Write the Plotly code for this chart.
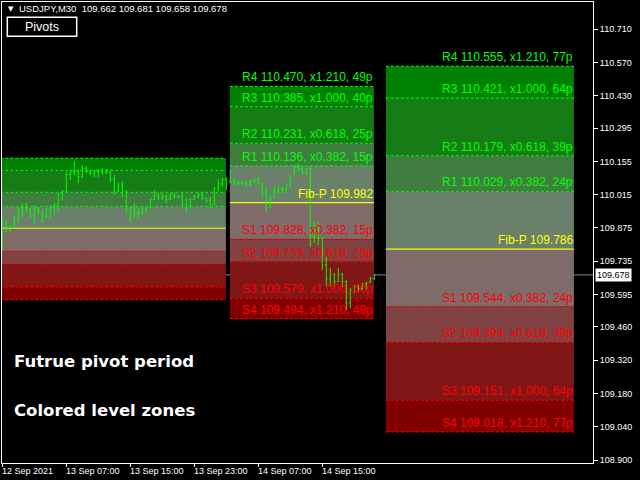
import plotly.graph_objects as go

# ---------------- data ----------------
opens = [109.900, 109.860, 109.870, 109.880, 109.915, 109.950, 109.960, 109.945, 109.930, 109.955,
         109.940, 109.925, 109.950, 109.960, 109.975, 110.020, 110.030, 110.100, 110.110, 110.115,
         110.090, 110.125, 110.112, 110.105, 110.110, 110.115, 110.110, 110.108, 110.080, 110.030,
         110.055, 110.030, 109.950, 109.930, 109.940, 109.935, 109.950, 109.960, 109.995, 110.010,
         110.000, 110.005, 109.995, 110.010, 110.005, 110.008, 109.975, 109.965, 109.995, 110.005,
         110.015, 110.000, 109.990, 109.975, 110.040, 110.060, 110.080, 110.068, 110.070, 110.065,
         110.065, 110.062, 110.060, 110.070, 110.075, 110.062, 110.020, 109.960, 110.005, 110.030,
         110.040, 110.040, 110.055, 110.100, 110.130, 110.125, 110.110, 110.125, 109.840, 109.870,
         109.830, 109.720, 109.660, 109.680, 109.650, 109.680, 109.650, 109.560, 109.615, 109.625,
         109.620, 109.640, 109.645, 109.662]
highs = [109.918, 109.908, 109.887, 109.929, 109.964, 109.980, 109.980, 109.959, 109.971, 109.964,
         109.950, 109.959, 109.971, 109.980, 110.022, 110.034, 110.111, 110.119, 110.156, 110.119,
         110.140, 110.135, 110.119, 110.119, 110.123, 110.127, 110.123, 110.119, 110.098, 110.068,
         110.072, 110.034, 109.964, 109.980, 109.959, 109.964, 109.964, 110.001, 110.034, 110.022,
         110.022, 110.014, 110.023, 110.023, 110.014, 110.023, 110.001, 110.001, 110.014, 110.027,
         110.022, 110.001, 110.006, 110.047, 110.081, 110.085, 110.090, 110.119, 110.085, 110.077,
         110.074, 110.074, 110.077, 110.085, 110.090, 110.064, 110.043, 110.014, 110.048, 110.056,
         110.048, 110.064, 110.098, 110.140, 110.148, 110.132, 110.127, 110.135, 109.901, 109.901,
         109.838, 109.754, 109.707, 109.686, 109.707, 109.686, 109.656, 109.623, 109.635, 109.635,
         109.644, 109.649, 109.670, 109.681]
lows = [109.782, 109.859, 109.854, 109.875, 109.896, 109.922, 109.938, 109.917, 109.887, 109.929,
        109.896, 109.917, 109.917, 109.929, 109.950, 109.992, 110.027, 110.076, 110.098, 110.064,
        110.085, 110.106, 110.098, 110.089, 110.089, 110.098, 110.102, 110.068, 110.014, 110.026,
        110.006, 109.938, 109.896, 109.917, 109.917, 109.929, 109.938, 109.959, 109.992, 109.992,
        109.992, 109.980, 109.992, 110.001, 110.001, 109.964, 109.938, 109.964, 109.992, 110.001,
        109.992, 109.980, 109.959, 109.971, 110.027, 110.048, 110.034, 110.064, 110.056, 110.056,
        110.056, 110.048, 110.051, 110.064, 110.056, 110.006, 109.943, 109.959, 110.001, 110.022,
        110.022, 110.022, 110.048, 110.098, 110.111, 110.098, 110.098, 109.796, 109.812, 109.803,
        109.698, 109.628, 109.628, 109.628, 109.649, 109.628, 109.530, 109.539, 109.602, 109.607,
        109.614, 109.614, 109.644, 109.658]
closes = [109.860, 109.870, 109.880, 109.915, 109.950, 109.960, 109.945, 109.930, 109.955, 109.940,
          109.925, 109.950, 109.960, 109.975, 110.020, 110.030, 110.100, 110.110, 110.115, 110.090,
          110.125, 110.112, 110.105, 110.110, 110.115, 110.110, 110.108, 110.080, 110.030, 110.055,
          110.030, 109.950, 109.930, 109.940, 109.935, 109.950, 109.960, 109.995, 110.010, 110.000,
          110.005, 109.995, 110.010, 110.005, 110.008, 109.975, 109.955, 109.995, 110.005, 110.015,
          110.000, 109.990, 109.965, 110.040, 110.060, 110.080, 110.060, 110.070, 110.065, 110.065,
          110.062, 110.060, 110.070, 110.075, 110.065, 110.020, 109.960, 110.000, 110.030, 110.040,
          110.040, 110.055, 110.090, 110.130, 110.125, 110.110, 110.125, 109.840, 109.870, 109.830,
          109.720, 109.660, 109.680, 109.650, 109.680, 109.650, 109.560, 109.615, 109.625, 109.620,
          109.640, 109.645, 109.662, 109.678]
bar_index = list(range(len(closes)))

time_tick_index = [0, 16, 32, 48, 64, 80]
time_tick_labels = ["12 Sep 2021", "13 Sep 07:00", "13 Sep 15:00",
                    "13 Sep 23:00", "14 Sep 07:00", "14 Sep 15:00"]
price_ticks = [110.710, 110.570, 110.430, 110.295, 110.155, 110.015, 109.875,
               109.735, 109.595, 109.460, 109.320, 109.180, 109.040, 108.900]

level_names = ["R4", "R3", "R2", "R1", "P", "S1", "S2", "S3", "S4"]
level_ratios = ["x1.210", "x1.000", "x0.618", "x0.382", "", "x0.382", "x0.618", "x1.000", "x1.210"]

zone1_levels = [110.168, 110.117, 110.025, 109.966, 109.874, 109.778, 109.723, 109.627, 109.573]
zone2_levels = [110.470, 110.385, 110.231, 110.136, 109.982, 109.828, 109.733, 109.579, 109.494]
zone3_levels = [110.555, 110.421, 110.179, 110.029, 109.786, 109.544, 109.394, 109.151, 109.018]
zone2_pips = [49, 40, 25, 15, 0, 15, 25, 40, 49]
zone3_pips = [77, 64, 39, 24, 0, 24, 39, 64, 77]

zone_start = [-0.5, 56.9, 95.9]
zone_end = [55.9, 92.9, 142.9]

# ---------------- styles ----------------
band_colors = ["rgb(0,128,0)", "rgb(22,124,22)", "rgb(64,126,64)", "rgb(107,128,107)",
               "rgb(128,107,107)", "rgb(128,66,66)", "rgb(128,22,22)", "rgb(128,0,0)"]
GREEN = "#00FF00"
RED = "#FF0000"
YELLOW = "#FFFF00"
FONT = "Liberation Sans, Arial, sans-serif"

fig = go.Figure()

fig.add_trace(go.Ohlc(
    x=bar_index, open=opens, high=highs, low=lows, close=closes,
    increasing=dict(line=dict(color=GREEN, width=1)),
    decreasing=dict(line=dict(color=GREEN, width=1)),
    tickwidth=0.3, showlegend=False, hoverinfo="skip"))

zones = [zone1_levels, zone2_levels, zone3_levels]
zone_pips = [None, zone2_pips, zone3_pips]

shapes = []
annotations = []
for z, levels in enumerate(zones):
    x0, x1 = zone_start[z], zone_end[z]
    for b in range(len(levels) - 1):
        shapes.append(dict(type="rect", xref="x", yref="y", x0=x0, x1=x1,
                           y0=levels[b + 1], y1=levels[b], fillcolor=band_colors[b],
                           line=dict(width=0), layer="below"))
    for k, lv in enumerate(levels):
        name = level_names[k]
        if name == "P":
            col, dash = YELLOW, "solid"
        elif name.startswith("R"):
            col, dash = GREEN, "3px,2px"
        else:
            col, dash = RED, "3px,2px"
        shapes.append(dict(type="line", xref="x", yref="y", x0=x0, x1=x1, y0=lv, y1=lv,
                           line=dict(color=col, width=1.2 if name == "P" else 1, dash=dash),
                           layer="below"))
        if zone_pips[z] is not None:
            if name == "P":
                txt = f"Fib-P {lv:.3f}"
            else:
                txt = f"{name} {lv:.3f}, {level_ratios[k]}, {zone_pips[z][k]}p"
            annotations.append(dict(x=x1, y=lv, xref="x", yref="y", text=txt,
                                    showarrow=False, xanchor="right", yanchor="bottom",
                                    borderpad=0, yshift=1,
                                    font=dict(family=FONT, size=12, color=col)))

# current price line
shapes.append(dict(type="line", xref="paper", yref="y", x0=0, x1=1,
                   y0=closes[-1], y1=closes[-1],
                   line=dict(color="#7A8A9C", width=1), layer="below"))

# Pivots button
shapes.append(dict(type="rect", xref="paper", yref="paper", x0=0.009, x1=0.1264,
                   y0=0.9256, y1=0.9668, line=dict(color="white", width=1.5),
                   fillcolor="black", layer="above"))
annotations.append(dict(x=0.0677, y=0.9462, xref="paper", yref="paper", text="Pivots",
                        showarrow=False, xanchor="center", yanchor="middle",
                        font=dict(family=FONT, size=12.5, color="white")))

# header
annotations.append(dict(x=0.0068, y=0.9855, xref="paper", yref="paper", text="▼",
                        showarrow=False, xanchor="left", yanchor="middle",
                        font=dict(family="DejaVu Sans", size=7, color="white")))
annotations.append(dict(x=0.0259, y=0.9855, xref="paper", yref="paper",
                        text=f"USDJPY,M30  {opens[-1]:.3f} {highs[-1]:.3f} {lows[-1]:.3f} {closes[-1]:.3f}",
                        showarrow=False, xanchor="left", yanchor="middle",
                        font=dict(family=FONT, size=9.5, color="white")))

# big notes
for txt, yp in [("Futrue pivot period", 0.221), ("Colored level zones", 0.1128)]:
    annotations.append(dict(x=0.0169, y=yp, xref="paper", yref="paper", text=txt,
                            showarrow=False, xanchor="left", yanchor="middle",
                            font=dict(family="DejaVu Sans", size=16.5, color="white",
                                      weight="bold")))

# time labels (left aligned at tick)
for ti, tl in zip(time_tick_index, time_tick_labels):
    annotations.append(dict(x=ti, y=0, xref="x", yref="paper", text=tl, showarrow=False,
                            xanchor="left", yanchor="top", yshift=-1, xshift=-2,
                            font=dict(family=FONT, size=9, color="white")))

# current price box
annotations.append(dict(x=1, y=closes[-1], xref="paper", yref="y", text=f"{closes[-1]:.3f}",
                        showarrow=False, xanchor="left", yanchor="middle", xshift=2,
                        bgcolor="white", borderpad=1,
                        font=dict(family=FONT, size=9, color="black")))

fig.update_layout(
    width=640, height=480,
    margin=dict(l=2, r=47, t=2, b=17),
    paper_bgcolor="black", plot_bgcolor="black",
    shapes=shapes, annotations=annotations,
    showlegend=False,
    xaxis=dict(range=[-0.075, 147.675], showgrid=False, zeroline=False,
               showline=True, mirror=True, linecolor="white", linewidth=1,
               ticks="outside", ticklen=3, tickcolor="white",
               tickvals=time_tick_index, showticklabels=False,
               rangeslider=dict(visible=False), fixedrange=True),
    yaxis=dict(range=[108.8874, 110.8247], side="right", showgrid=False, zeroline=False,
               showline=True, mirror=True, linecolor="white", linewidth=1,
               ticks="outside", ticklen=4, tickcolor="white",
               tickvals=price_ticks, ticktext=[f"{v:.3f}" for v in price_ticks],
               tickfont=dict(family=FONT, size=9, color="white"), fixedrange=True),
)

fig.write_html("out.html", config={"displayModeBar": False},
               post_script="document.body.style.margin='0';document.body.style.background='black';")
